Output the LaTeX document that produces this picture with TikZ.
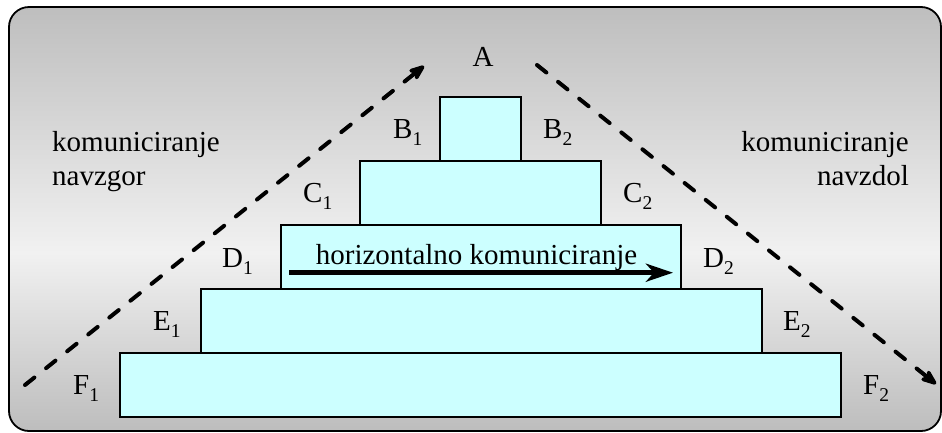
\documentclass[tikz,border=0pt]{standalone}
\usepackage{fontspec}
\setmainfont{Liberation Serif}
\usetikzlibrary{arrows.meta}

\definecolor{panelTop}{HTML}{BEBEBE}
\definecolor{panelLight}{HTML}{F1F1F1}
\definecolor{panelBottom}{HTML}{BDBDBD}
\definecolor{levelFill}{HTML}{CCFFFF}

% vertical grey shading of the panel: dark at the top, light below the middle, dark again at the bottom
\pgfdeclareverticalshading{panelshade}{100bp}{%
  color(0bp)=(panelBottom); color(25bp)=(panelBottom);
  color(46bp)=(panelLight);
  color(75bp)=(panelTop); color(100bp)=(panelTop)}

% level index written as a lowered, smaller number
\newcommand\lvidx[1]{\raisebox{-7pt}{\fontsize{19.5}{19.5}\selectfont #1}}

\begin{document}
\begin{tikzpicture}[x=1pt, y=-1pt,
  font=\fontsize{29}{34}\selectfont,
  level/.style={draw=black, line width=2pt, fill=levelFill,
    minimum height=64pt, inner sep=0pt, outer sep=0pt},
  lbl/.style={anchor=base west, inner sep=0pt},
  flow/.style={line width=4pt, line cap=round, dash pattern=on 12pt off 15pt,
    -{Stealth[length=22pt, width=17pt, inset=7pt, round]}},
  hflow/.style={line width=4.8pt, -{Stealth[length=27pt, width=18pt, inset=8pt]}}]

\useasboundingbox (0,0) rectangle (942,432);

% panel
\path[shading=panelshade, rounded corners=20pt] (9,7) rectangle (941,431);
\draw[line width=1.8pt, rounded corners=20pt] (9,7) rectangle (941,431);

% pyramid levels, bottom to top
\node[level, minimum width=721pt] (F) at (480.7,385.3) {};
\node[level, minimum width=561pt] (E) at (481,321.3) {};
\node[level, minimum width=400pt] (D) at (481,257.3) {};
\node[level, minimum width=241pt] (C) at (480.5,193.2) {};
\node[level, minimum width=81pt]  (B) at (480.5,129.2) {};

% level labels
\node[anchor=base] (lA) at (483,66) {A};
\node[lbl] (lB1) at (393,138) {B\lvidx{1}};
\node[lbl] (lB2) at (543,138) {B\lvidx{2}};
\node[lbl] (lC1) at (303,202) {C\lvidx{1}};
\node[lbl] (lC2) at (623,202) {C\lvidx{2}};
\node[lbl] (lD1) at (222,267) {D\lvidx{1}};
\node[lbl] (lD2) at (703,267) {D\lvidx{2}};
\node[lbl] (lE1) at (153,330) {E\lvidx{1}};
\node[lbl] (lE2) at (783,330) {E\lvidx{2}};
\node[lbl] (lF1) at (73,394) {F\lvidx{1}};
\node[lbl] (lF2) at (863,394) {F\lvidx{2}};

% side captions
\node[anchor=base west, inner sep=0pt, align=left] (up) at (52,185)
  {komuniciranje\\navzgor};
\node[anchor=base east, inner sep=0pt, align=right] (down) at (909,185)
  {komuniciranje\\navzdol};

% upward and downward communication
\coordinate (upS) at (25,385);
\coordinate (upE) at (424,66);
\coordinate (dnS) at (537,65);
\coordinate (dnE) at (936,384);
\draw[flow] (upS) -- (upE);
\draw[flow] (dnS) -- (dnE);

% horizontal communication
\node[anchor=base] (hz) at (476.5,264) {horizontalno komuniciranje};
\coordinate (hS) at (289,272.7);
\coordinate (hE) at (673,272.7);
\draw[hflow] (hS) -- (hE);
\end{tikzpicture}
\end{document}
